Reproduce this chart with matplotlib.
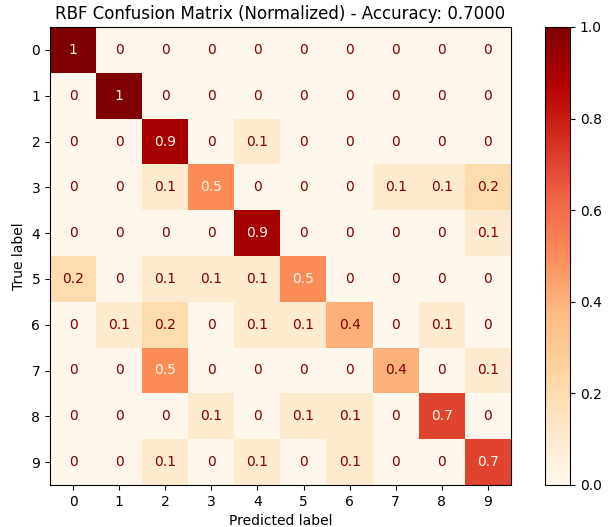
import numpy as np
import matplotlib
matplotlib.use("Agg")
import matplotlib.pyplot as plt

labels = [str(i) for i in range(10)]
cm = np.array([
    [1, 0, 0, 0, 0, 0, 0, 0, 0, 0],
    [0, 1, 0, 0, 0, 0, 0, 0, 0, 0],
    [0, 0, 0.9, 0, 0.1, 0, 0, 0, 0, 0],
    [0, 0, 0.1, 0.5, 0, 0, 0, 0.1, 0.1, 0.2],
    [0, 0, 0, 0, 0.9, 0, 0, 0, 0, 0.1],
    [0.2, 0, 0.1, 0.1, 0.1, 0.5, 0, 0, 0, 0],
    [0, 0.1, 0.2, 0, 0.1, 0.1, 0.4, 0, 0.1, 0],
    [0, 0, 0.5, 0, 0, 0, 0, 0.4, 0, 0.1],
    [0, 0, 0, 0.1, 0, 0.1, 0.1, 0, 0.7, 0],
    [0, 0, 0.1, 0, 0.1, 0, 0.1, 0, 0, 0.7],
])
accuracy = 0.7

W, H = 608, 527
fig = plt.figure(figsize=(W / 100, H / 100), dpi=100)
ax = fig.add_axes([50 / W, 1 - 485 / H, 461 / W, 458 / H])
cax = fig.add_axes([545 / W, 1 - 485 / H, 25 / W, 458 / H])
cmap = plt.get_cmap("OrRd")
im = ax.imshow(cm, cmap=cmap, vmin=0, vmax=1, aspect="auto")
fig.colorbar(im, cax=cax)
thresh = (cm.max() + cm.min()) / 2.0
for i in range(cm.shape[0]):
    for j in range(cm.shape[1]):
        v = cm[i, j]
        color = cmap(0.0) if v >= thresh else cmap(1.0)
        ax.text(j, i, f"{v:.2g}", ha="center", va="center", color=color, fontsize=10)
ax.set_xticks(range(10), labels)
ax.set_yticks(range(10), labels)
ax.set_xlabel("Predicted label")
ax.set_ylabel("True label")
ax.set_title(f"RBF Confusion Matrix (Normalized) - Accuracy: {accuracy:.4f}")
fig.savefig("out.png", dpi=100)
